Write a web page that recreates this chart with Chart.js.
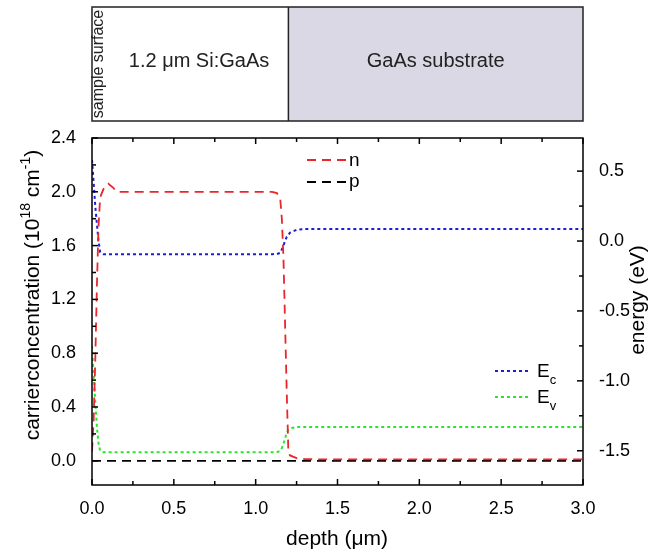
<!DOCTYPE html>
<html>
<head>
<meta charset="utf-8">
<script src="https://cdn.jsdelivr.net/npm/chart.js@4.4.1/dist/chart.umd.min.js"></script>
<style>
  body { margin: 0; background: #fff; }
</style>
</head>
<body>
<canvas id="myChart" width="651" height="552"></canvas>
<script>
// depth in um
const depth = [0, 0.01, 0.02, 0.03, 0.04, 0.05, 0.07, 0.1, 0.13, 0.15, 0.5, 1.0, 1.1, 1.13, 1.15, 1.16, 1.17, 1.18, 1.19, 1.2, 1.21, 1.25, 1.3, 1.5, 2.0, 3.0];
// carrier concentration (1e18 cm^-1)
const nConc = [0.07, 0.3, 0.75, 1.3, 1.75, 1.96, 2.02, 2.06, 2.03, 2.0, 2.0, 2.0, 2.0, 1.99, 1.95, 1.8, 1.5, 1.0, 0.5, 0.06, 0.04, 0.02, 0.012, 0.01, 0.01, 0.01];
const pConc = [0, 0, 0, 0, 0, 0, 0, 0, 0, 0, 0, 0, 0, 0, 0, 0, 0, 0, 0, 0, 0, 0, 0, 0, 0, 0];
// band edges (eV)
const eC = [0.58, 0.42, 0.25, 0.12, 0.0, -0.08, -0.094, -0.094, -0.094, -0.094, -0.094, -0.094, -0.094, -0.093, -0.085, -0.06, -0.03, 0.0, 0.03, 0.045, 0.06, 0.08, 0.086, 0.086, 0.086, 0.086];
const eV = [-0.75, -0.95, -1.15, -1.33, -1.45, -1.5, -1.51, -1.51, -1.51, -1.51, -1.51, -1.51, -1.51, -1.51, -1.5, -1.48, -1.45, -1.41, -1.37, -1.35, -1.34, -1.33, -1.33, -1.33, -1.33, -1.33];

const xTicks = [0, 0.5, 1.0, 1.5, 2.0, 2.5, 3.0];
const xMinor = [0.25, 0.75, 1.25, 1.75, 2.25, 2.75];
const yTicks = [0, 0.4, 0.8, 1.2, 1.6, 2.0, 2.4];
const yMinor = [0.2, 0.6, 1.0, 1.4, 1.8, 2.2];
const eTicks = [-1.5, -1.0, -0.5, 0, 0.5];
const eMinor = [-1.25, -0.75, -0.25, 0.25];

const FONT = '"Liberation Sans", Arial, sans-serif';
const RED = '#e8262c', BLUE = '#1e1ed6', GREEN = '#2ae62a';
const DASH = [9, 6], DOT = [3, 3];

function pts(ys) {
    return depth.map((d, i) => ({ x: d, y: ys[i] }));
}

// draw text made of parts (for super/subscripts)
function richText(ctx, parts, x, y, align) {
    let total = 0;
    parts.forEach(p => { ctx.font = p.size + 'px ' + FONT; total += ctx.measureText(p.t).width; });
    let cx = align === 'center' ? x - total / 2 : x;
    ctx.textAlign = 'left';
    ctx.textBaseline = 'alphabetic';
    parts.forEach(p => {
        ctx.font = p.size + 'px ' + FONT;
        ctx.fillText(p.t, cx, y + (p.dy || 0));
        cx += ctx.measureText(p.t).width;
    });
}

const decor = {
    id: 'decor',
    afterDraw(chart) {
        const { ctx, chartArea: { left, right, top, bottom }, scales: { x, y, y1 } } = chart;
        ctx.save();
        ctx.strokeStyle = '#000';
        ctx.fillStyle = '#000';
        ctx.lineWidth = 1.5;

        function seg(x0, y0, x2, y2) {
            ctx.beginPath(); ctx.moveTo(x0, y0); ctx.lineTo(x2, y2); ctx.stroke();
        }

        // inward ticks
        xTicks.forEach(v => { const p = x.getPixelForValue(v); seg(p, bottom, p, bottom - 6); seg(p, top, p, top + 6); });
        xMinor.forEach(v => { const p = x.getPixelForValue(v); seg(p, bottom, p, bottom - 4); seg(p, top, p, top + 4); });
        yTicks.forEach(v => { const p = y.getPixelForValue(v); seg(left, p, left + 6, p); });
        yMinor.forEach(v => { const p = y.getPixelForValue(v); seg(left, p, left + 4, p); });
        eTicks.forEach(v => { const p = y1.getPixelForValue(v); seg(right, p, right - 6, p); });
        eMinor.forEach(v => { const p = y1.getPixelForValue(v); seg(right, p, right - 4, p); });

        // frame
        ctx.strokeRect(left, top, right - left, bottom - top);

        // layer sketch above the plot
        const bx0 = x.getPixelForValue(0), bx1 = x.getPixelForValue(3), bMid = x.getPixelForValue(1.2);
        const by0 = 7, by1 = 121;
        ctx.fillStyle = '#d9d8e4';
        ctx.fillRect(bMid, by0, bx1 - bMid, by1 - by0);
        ctx.strokeStyle = '#222';
        ctx.strokeRect(bx0, by0, bx1 - bx0, by1 - by0);
        seg(bMid, by0, bMid, by1);
        ctx.fillStyle = '#222';
        ctx.font = '20px ' + FONT;
        ctx.textAlign = 'center';
        ctx.textBaseline = 'middle';
        ctx.fillText('1.2 \u03bcm Si:GaAs', 199, 61);
        ctx.fillText('GaAs substrate', (bMid + bx1) / 2, 61);
        ctx.save();
        ctx.translate(103, (by0 + by1) / 2);
        ctx.rotate(-Math.PI / 2);
        ctx.font = '16px ' + FONT;
        ctx.textBaseline = 'alphabetic';
        ctx.fillText('sample surface', 0, 0);
        ctx.restore();

        // axis titles
        ctx.fillStyle = '#000';
        ctx.save();
        ctx.translate(39, 295);
        ctx.rotate(-Math.PI / 2);
        richText(ctx, [
            { t: 'carrierconcentration (10', size: 21 },
            { t: '18', size: 14, dy: -9 },
            { t: ' cm', size: 21 },
            { t: '-1', size: 14, dy: -9 },
            { t: ')', size: 21 }
        ], 0, 0, 'center');
        ctx.restore();

        ctx.save();
        ctx.translate(644, 300);
        ctx.rotate(-Math.PI / 2);
        richText(ctx, [{ t: 'energy (eV)', size: 21 }], 0, 0, 'center');
        ctx.restore();

        richText(ctx, [{ t: 'depth (\u03bcm)', size: 21 }], 337, 545, 'center');

        // legends
        ctx.lineWidth = 1.8;
        function legLine(color, dash, x0, x2, yy) {
            ctx.strokeStyle = color;
            ctx.setLineDash(dash);
            seg(x0, yy, x2, yy);
            ctx.setLineDash([]);
        }
        legLine(RED, DASH, 307, 346, 160);
        legLine('#000', DASH, 307, 346, 182);
        richText(ctx, [{ t: 'n', size: 19 }], 349, 166, 'left');
        richText(ctx, [{ t: 'p', size: 19 }], 349, 187, 'left');

        ctx.lineWidth = 2;
        legLine(BLUE, DOT, 495, 531, 371);
        legLine(GREEN, DOT, 495, 531, 397);
        richText(ctx, [{ t: 'E', size: 19 }, { t: 'c', size: 13, dy: 7 }], 537, 377, 'left');
        richText(ctx, [{ t: 'E', size: 19 }, { t: 'v', size: 13, dy: 7 }], 537, 403, 'left');

        ctx.restore();
    }
};

const tickFont = { family: FONT, size: 18 };

new Chart(document.getElementById('myChart').getContext('2d'), {
    type: 'line',
    data: {
        datasets: [
            { label: 'n', data: pts(nConc), yAxisID: 'y', borderColor: RED, borderDash: DASH, borderWidth: 1.8, pointRadius: 0, tension: 0 },
            { label: 'p', data: pts(pConc), yAxisID: 'y', borderColor: '#000', borderDash: DASH, borderWidth: 1.8, pointRadius: 0, tension: 0 },
            { label: 'Ec', data: pts(eC), yAxisID: 'y1', borderColor: BLUE, borderDash: DOT, borderWidth: 2, pointRadius: 0, tension: 0 },
            { label: 'Ev', data: pts(eV), yAxisID: 'y1', borderColor: GREEN, borderDash: DOT, borderWidth: 2, pointRadius: 0, tension: 0 }
        ]
    },
    options: {
        responsive: false,
        animation: false,
        layout: { padding: { top: 138, left: 0, right: 0, bottom: 0 } },
        plugins: {
            legend: { display: false },
            tooltip: { enabled: false }
        },
        scales: {
            x: {
                type: 'linear',
                min: 0,
                max: 3,
                afterBuildTicks: s => { s.ticks = xTicks.map(v => ({ value: v })); },
                afterFit: s => { s.height = 67; },
                ticks: { callback: v => v.toFixed(1), color: '#000', font: tickFont, padding: 5, maxRotation: 0, autoSkip: false },
                grid: { display: false },
                border: { display: false }
            },
            y: {
                position: 'left',
                min: -0.18,
                max: 2.4,
                afterBuildTicks: s => { s.ticks = yTicks.map(v => ({ value: v })); },
                afterFit: s => { s.width = 92; },
                ticks: { callback: v => v.toFixed(1), color: '#000', font: tickFont, padding: 8 },
                grid: { display: false },
                border: { display: false }
            },
            y1: {
                position: 'right',
                min: -1.745,
                max: 0.737,
                afterBuildTicks: s => { s.ticks = eTicks.map(v => ({ value: v })); },
                afterFit: s => { s.width = 68; },
                ticks: { callback: v => v.toFixed(1), color: '#000', font: tickFont, padding: 8 },
                grid: { display: false },
                border: { display: false }
            }
        }
    },
    plugins: [decor]
});
</script>
</body>
</html>
